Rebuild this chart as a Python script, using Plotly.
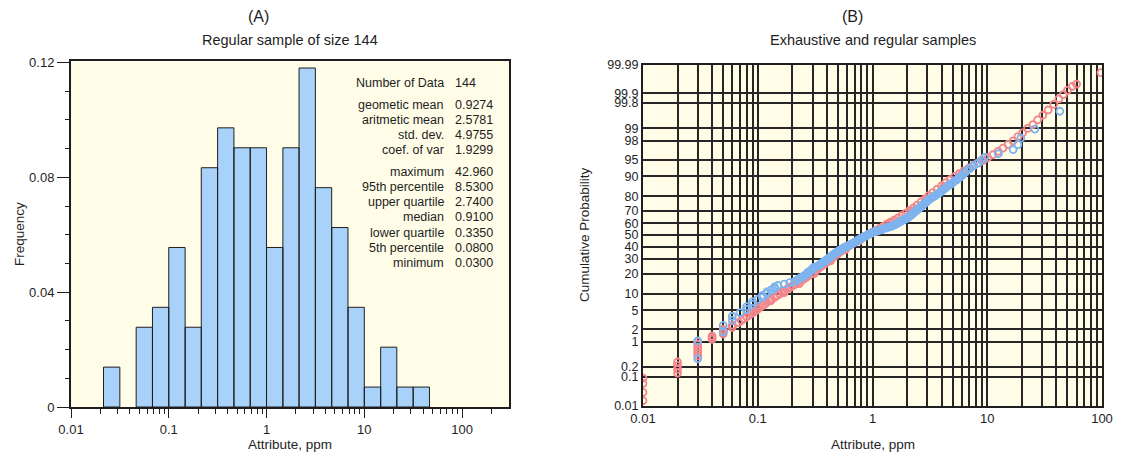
import plotly.graph_objects as go
from statistics import NormalDist

# ---------------- data ----------------
# (A) histogram of the regular sample (log-spaced bins, counts of 144)
BIN_EDGES = [0.0215, 0.0316, 0.0464, 0.0681, 0.1, 0.147, 0.215, 0.316, 0.464, 0.681,
             1.0, 1.47, 2.15, 3.16, 4.64, 6.81, 10.0, 14.7, 21.5, 31.6, 46.4]
BIN_COUNTS = [2, 0, 4, 5, 8, 4, 12, 14, 13, 13, 8, 13, 17, 11, 9, 5, 1, 3, 1, 1]
N_DATA = 144

STAT_LABELS = ["Number of Data", "geometic mean", "aritmetic mean", "std. dev.", "coef. of var",
               "maximum", "95th percentile", "upper quartile", "median", "lower quartile",
               "5th percentile", "minimum"]
STAT_VALUES = ["144", "0.9274", "2.5781", "4.9755", "1.9299",
               "42.960", "8.5300", "2.7400", "0.9100", "0.3350", "0.0800", "0.0300"]

# (B) exhaustive data: attribute value and cumulative probability (%)
EXH_X = [0.01, 0.01, 0.01, 0.01, 0.02, 0.02, 0.02, 0.02,
         0.03, 0.03, 0.03, 0.03, 0.03, 0.03, 0.04, 0.04, 0.04,
         0.05, 0.05, 0.05, 0.05, 0.06, 0.06,
         0.068, 0.072, 0.076, 0.08, 0.084, 0.088, 0.092, 0.096,
         0.1, 0.104, 0.11, 0.115, 0.12, 0.126, 0.132, 0.14, 0.147, 0.155, 0.163, 0.172, 0.18,
         0.19, 0.2, 0.21, 0.22, 0.235, 0.25, 0.265, 0.28, 0.3, 0.32, 0.34, 0.36, 0.385, 0.41,
         0.44, 0.47, 0.5, 0.53, 0.57, 0.61, 0.65, 0.7, 0.75, 0.8, 0.86, 0.93, 1.0, 1.07, 1.15,
         1.24, 1.33, 1.43, 1.55, 1.67, 1.8, 1.95, 2.1, 2.27, 2.45, 2.65, 2.87, 3.1, 3.35, 3.65,
         4.0, 4.35, 4.75, 5.2, 5.7, 6.25, 6.9, 7.6, 8.4, 9.2, 10.1, 11.2, 12.4, 13.7, 15.2,
         16.8, 18.5, 20.3, 22.5, 25.0, 27.5, 30.5, 34.0, 38.0, 42.0, 46.0, 50.0, 55.0, 60.0, 98.0,
         0.13, 0.17, 0.23, 0.31, 0.43, 0.58, 0.77, 1.1, 1.5, 2.2, 3.0, 4.2, 6.0, 9.0]
EXH_P = [0.015, 0.03, 0.06, 0.09, 0.13, 0.17, 0.22, 0.28,
         0.42, 0.5, 0.6, 0.72, 0.85, 1.0, 1.15, 1.25, 1.38,
         1.55, 1.7, 1.85, 2.0, 2.2, 2.45,
         2.8, 3.1, 3.4, 3.7, 4.0, 4.3, 4.6, 4.9,
         5.3, 5.7, 6.2, 6.6, 7.1, 7.6, 8.1, 8.7, 9.3, 9.9, 10.6, 11.3, 11.9,
         12.6, 13.3, 14.0, 14.8, 15.7, 16.7, 17.8, 18.9, 20.3, 21.8, 23.3, 24.8, 26.5, 28.2,
         30.2, 32.2, 34.2, 36.0, 38.0, 40.0, 41.8, 43.8, 45.5, 47.2, 49.0, 50.8, 52.3, 54.0, 55.7,
         57.5, 59.3, 61.0, 62.8, 64.6, 66.4, 68.3, 70.2, 72.2, 74.3, 76.5, 78.5, 80.5, 82.2, 84.0,
         85.8, 87.3, 88.6, 89.9, 91.0, 91.9, 92.8, 93.6, 94.2, 94.8, 95.4, 96.0, 96.6, 97.1, 97.6,
         98.0, 98.4, 98.7, 99.0, 99.2, 99.4, 99.55, 99.68, 99.78, 99.85, 99.89, 99.92, 99.94, 99.95, 99.98,
         7.6, 10.4, 14.4, 20.0, 28.6, 37.4, 45.0, 53.4, 60.6, 70.0, 78.6, 85.6, 91.0, 94.8]

# (B) regular sample of 144 values, sorted
REG_X = [0.03, 0.03, 0.05, 0.05, 0.06, 0.06, 0.07, 0.08, 0.08, 0.09, 0.09,
         0.10, 0.11, 0.11, 0.12, 0.12, 0.13, 0.14, 0.14,
         0.15, 0.17, 0.19, 0.21,
         0.22, 0.23, 0.24, 0.25, 0.26, 0.27, 0.27, 0.28, 0.29, 0.30, 0.30, 0.31,
         0.33, 0.34, 0.35, 0.36, 0.37, 0.38, 0.39, 0.40, 0.41, 0.42, 0.43, 0.44, 0.45, 0.46,
         0.47, 0.48, 0.50, 0.51, 0.52, 0.54, 0.55, 0.57, 0.59, 0.61, 0.63, 0.65, 0.67,
         0.69, 0.71, 0.73, 0.75, 0.77, 0.79, 0.81, 0.84, 0.87, 0.90, 0.92, 0.95, 0.98,
         1.02, 1.07, 1.12, 1.18, 1.24, 1.30, 1.37, 1.44,
         1.50, 1.55, 1.60, 1.65, 1.70, 1.75, 1.80, 1.86, 1.92, 1.98, 2.04, 2.09, 2.13,
         2.18, 2.22, 2.27, 2.32, 2.37, 2.42, 2.48, 2.54, 2.60, 2.66, 2.72, 2.76, 2.82, 2.90,
         2.98, 3.05, 3.12,
         3.22, 3.35, 3.48, 3.60, 3.72, 3.85, 3.98, 4.12, 4.26, 4.40, 4.55,
         4.75, 4.95, 5.15, 5.40, 5.65, 5.90, 6.15, 6.40, 6.65,
         7.10, 7.60, 8.20, 8.86, 9.50, 12.5, 16.8, 18.5, 19.6, 26.0, 42.96]

PROB_TICKS = [0.01, 0.1, 0.2, 1, 2, 5, 10, 20, 30, 40, 50, 60, 70, 80, 90, 95, 98, 99, 99.8, 99.9, 99.99]
PROB_LABELS = ["0.01", "0.1", "0.2", "1", "2", "5", "10", "20", "30", "40", "50", "60", "70",
               "80", "90", "95", "98", "99", "99.8", "99.9", "99.99"]
DECADE_LABELS = ["0.01", "0.1", "1", "10", "100"]

# ---------------- styling ----------------
W, H = 1121, 457
FONT = "Liberation Sans, Arial, Helvetica, sans-serif"
INK = "#1e1e1e"
PAPER_BG = "#ffffff"
PLOT_BG = "#fffde8"
BAR_FILL = "#a9d2fa"
GRID = "#262626"
RED = "#f2868b"
BLUE = "#7db4f0"

def px_x(px):
    return px / W

def px_y(py):
    return 1 - py / H

nd = NormalDist()
def z_of(p_percent):
    return nd.inv_cdf(p_percent / 100.0)

fig = go.Figure()

# ---- (A) histogram drawn as outlined polygons on the log axis ----
hx, hy = [], []
for i, c in enumerate(BIN_COUNTS):
    if c == 0:
        continue
    lo, hi, f = BIN_EDGES[i], BIN_EDGES[i + 1], c / N_DATA
    hx += [lo, lo, hi, hi, lo, None]
    hy += [0, f, f, 0, 0, None]
fig.add_trace(go.Scatter(x=hx, y=hy, mode="lines", fill="toself", fillcolor=BAR_FILL,
                         line=dict(color=INK, width=1), xaxis="x", yaxis="y",
                         hoverinfo="skip", showlegend=False))

# ---- (B) probability plot ----
fig.add_trace(go.Scatter(x=EXH_X, y=[z_of(p) for p in EXH_P], mode="markers",
                         marker=dict(symbol="circle-open", size=7, color=RED, line=dict(width=1.8)),
                         xaxis="x2", yaxis="y2", name="exhaustive", showlegend=False))
n = len(REG_X)
reg_p = [100.0 * (i + 0.5) / n for i in range(n)]
fig.add_trace(go.Scatter(x=REG_X, y=[z_of(p) for p in reg_p], mode="markers",
                         marker=dict(symbol="circle-open", size=7, color=BLUE, line=dict(width=1.8)),
                         xaxis="x2", yaxis="y2", name="regular", showlegend=False))

# axis tick positions
minor_vals = [m * 10.0 ** e for e in range(-2, 3) for m in range(2, 10) if m * 10.0 ** e < 300]
decades = [10.0 ** e for e in range(-2, 3)]
grid_vals, grid_text = [], []
for e in range(-2, 2):
    for m in range(1, 10):
        grid_vals.append(m * 10.0 ** e)
        grid_text.append(DECADE_LABELS[e + 2] if m == 1 else "")
grid_vals.append(100.0)
grid_text.append(DECADE_LABELS[-1])

tickfont = dict(family=FONT, size=13, color=INK)

fig.update_layout(
    width=W, height=H, margin=dict(l=0, r=0, t=0, b=0, autoexpand=False),
    paper_bgcolor=PAPER_BG, plot_bgcolor=PLOT_BG,
    font=dict(family=FONT, color=INK),
    xaxis=dict(domain=[px_x(71), px_x(509)], type="log", range=[-2, 2.48], autorange=False,
               tickvals=decades, ticktext=DECADE_LABELS, ticks="outside", ticklen=9,
               tickcolor=INK, tickwidth=1, tickfont=tickfont, showgrid=False, zeroline=False,
               showline=True, linecolor=INK, linewidth=2, mirror=True, automargin=False,
               minor=dict(tickvals=minor_vals, ticks="outside", ticklen=5, tickcolor=INK,
                          tickwidth=1, showgrid=False),
               anchor="y"),
    yaxis=dict(domain=[px_y(407), px_y(61)], range=[0, 0.1205], autorange=False,
               tickvals=[0, 0.04, 0.08, 0.12], ticktext=["0", "0.04", "0.08", "0.12"],
               ticks="outside", ticklen=12, tickcolor=INK, tickwidth=1, tickfont=tickfont,
               showgrid=False, zeroline=False, showline=True, linecolor=INK, linewidth=2,
               mirror=True, automargin=False,
               minor=dict(tickvals=[0.01, 0.02, 0.03, 0.05, 0.06, 0.07, 0.09, 0.10, 0.11],
                          ticks="outside", ticklen=4, tickcolor=INK, tickwidth=1, showgrid=False),
               anchor="x"),
    xaxis2=dict(domain=[px_x(643), px_x(1102)], type="log", range=[-2, 2], autorange=False,
                tickvals=grid_vals, ticktext=grid_text, ticks="", tickfont=tickfont,
                showgrid=True, gridcolor=GRID, gridwidth=1.5, zeroline=False,
                showline=True, linecolor=INK, linewidth=2, mirror=True, automargin=False,
                anchor="y2"),
    yaxis2=dict(domain=[px_y(405.5), px_y(64.5)], range=[z_of(0.01), z_of(99.99)], autorange=False,
                tickvals=[z_of(p) for p in PROB_TICKS], ticktext=PROB_LABELS, ticks="",
                tickfont=dict(family=FONT, size=12.5, color=INK), showgrid=True,
                gridcolor=GRID, gridwidth=1.5, automargin=False,
                zeroline=False, showline=True, linecolor=INK, linewidth=2, mirror=True,
                anchor="x2"),
)

ann = []
def text(x, y, s, size, xanchor="center", angle=0):
    ann.append(dict(x=px_x(x), y=px_y(y), xref="paper", yref="paper", text=s, showarrow=False,
                    xanchor=xanchor, yanchor="middle", textangle=angle,
                    font=dict(family=FONT, size=size, color=INK)))

# titles and axis labels
text(258, 16, "(A)", 16)
text(290, 40, "Regular sample of size 144", 14.5)
text(290, 444, "Attribute, ppm", 13.5)
text(19, 234, "Frequency", 13.5, angle=-90)
text(852, 16, "(B)", 16)
text(873, 40, "Exhaustive and regular samples", 14.5)
text(873, 444, "Attribute, ppm", 13.5)
text(584, 235, "Cumulative Probability", 13.5, angle=-90)

# summary statistics block
stat_rows = [83, 105, 120, 135, 150, 172, 187, 202, 217.5, 233, 248, 263]
for lab, val, yy in zip(STAT_LABELS, STAT_VALUES, stat_rows):
    text(446, yy, lab, 12.5, xanchor="right")
    text(453, yy, val, 12.5, xanchor="left")

fig.update_layout(annotations=ann)
fig.write_html("out.html")
